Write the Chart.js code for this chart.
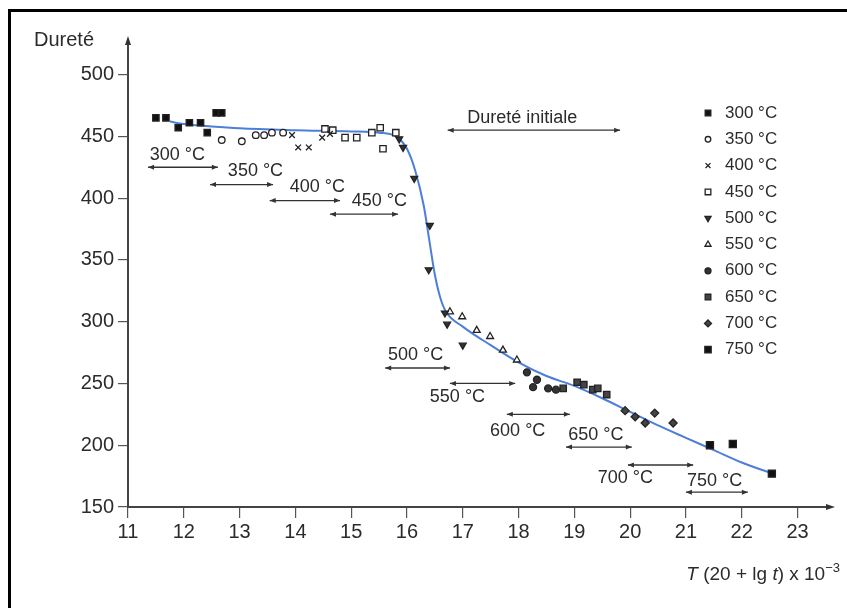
<!DOCTYPE html>
<html>
<head>
<meta charset="utf-8">
<script src="https://cdn.jsdelivr.net/npm/chart.js@4.4.1/dist/chart.umd.min.js"></script>
<style>
html, body { margin: 0; padding: 0; background: #fff; }
</style>
</head>
<body>
<canvas id="myChart" width="847" height="608"></canvas>
<script>
// axis ticks
const xTicks = [11, 12, 13, 14, 15, 16, 17, 18, 19, 20, 21, 22, 23];
const yTicks = [150, 200, 250, 300, 350, 400, 450, 500];

// tempering temperatures
const temps = ['300 °C', '350 °C', '400 °C', '450 °C', '500 °C', '550 °C', '600 °C', '650 °C', '700 °C', '750 °C'];

// measured hardness per temperature (x = T(20 + lg t) x 10^-3)
const x300 = [11.5, 11.68, 11.9, 12.1, 12.3, 12.42, 12.58, 12.68];
const y300 = [465, 465, 457, 461, 461, 453, 469, 469];
const x350 = [12.68, 13.04, 13.29, 13.44, 13.58, 13.78];
const y350 = [447, 446, 451, 451, 453, 453];
const x400 = [13.94, 14.05, 14.24, 14.48, 14.62];
const y400 = [451, 441, 441, 449, 452];
const x450 = [14.53, 14.67, 14.89, 15.1, 15.37, 15.52, 15.57, 15.8];
const y450 = [456, 455, 449, 449, 453, 457, 440, 453];
const x500 = [15.86, 15.93, 16.13, 16.41, 16.39, 16.68, 16.72, 17.0];
const y500 = [448, 441, 416, 378, 342, 307, 298, 281];
const x550 = [16.77, 16.99, 17.25, 17.49, 17.72, 17.97];
const y550 = [308, 304, 293, 288, 277, 269];
const x600 = [18.15, 18.26, 18.33, 18.53, 18.67];
const y600 = [259, 247, 253, 246, 245];
const x650 = [18.8, 19.05, 19.17, 19.33, 19.42, 19.58];
const y650 = [246, 251, 249, 245, 246, 241];
const x700 = [19.91, 20.09, 20.27, 20.44, 20.77];
const y700 = [228, 223, 218, 226, 218];
const x750 = [21.43, 21.84, 22.54];
const y750 = [200, 201, 177];

// fitted master curve
const curveX = [11.75, 12.0, 12.5, 13.0, 14.0, 15.0, 15.5, 15.8, 16.0, 16.15, 16.3, 16.4, 16.5, 16.6, 16.7, 17.0, 17.5, 18.0, 18.5, 19.0, 19.5, 20.0, 20.5, 21.0, 21.5, 22.0, 22.55];
const curveY = [462, 460, 458, 456.5, 455, 454, 453, 450, 440, 422, 394, 366, 338, 319, 308, 296, 281, 267, 256, 248, 238, 227, 216, 206, 196, 186, 177];

// temperature ranges shown as double arrows
const rangeFrom = [11.36, 12.47, 13.54, 14.62, 15.61, 16.77, 17.79, 18.85, 19.96, 21.0];
const rangeTo = [12.61, 13.6, 14.8, 15.84, 16.77, 17.94, 18.92, 20.03, 21.13, 22.11];
const rangeY = [425, 411, 398, 387, 262.5, 250, 225, 198.5, 184, 162];
const rangeLabelX = [11.39, 12.79, 13.9, 15.01, 15.66, 16.41, 17.49, 18.89, 19.42, 21.02];
const rangeLabelY = [435, 422, 409, 397.5, 273, 239, 211.5, 208, 173.5, 171];

// initial hardness band
const initFrom = 16.73, initTo = 19.82, initY = 455;
const initLabelX = 17.08, initLabelY = 465;

const seriesX = [x300, x350, x400, x450, x500, x550, x600, x650, x700, x750];
const seriesY = [y300, y350, y400, y450, y500, y550, y600, y650, y700, y750];

const marks = [
    {style: 'rect', fill: '#111', radius: 4.5, rotation: 0},
    {style: 'circle', fill: '#fff', radius: 3.3, rotation: 0},
    {style: 'crossRot', fill: '#fff', radius: 4, rotation: 0},
    {style: 'rect', fill: '#fff', radius: 4.5, rotation: 0},
    {style: 'triangle', fill: '#333', radius: 4, rotation: 180},
    {style: 'triangle', fill: '#fff', radius: 4, rotation: 0},
    {style: 'circle', fill: '#333', radius: 3.5, rotation: 0},
    {style: 'rect', fill: '#444', radius: 4.5, rotation: 0},
    {style: 'rectRot', fill: '#444', radius: 4, rotation: 0},
    {style: 'rect', fill: '#111', radius: 5, rotation: 0}
];

const FONT = '"Liberation Sans", Arial, sans-serif';
const INK = '#2b2b2b';

var datasets = [{
    label: 'courbe',
    data: curveX.map((v, i) => ({x: v, y: curveY[i]})),
    showLine: true,
    borderColor: '#4d7fd8',
    borderWidth: 2,
    pointRadius: 0,
    cubicInterpolationMode: 'monotone',
    order: 10
}];
for (let i = 0; i < temps.length; i++) {
    datasets.push({
        label: temps[i],
        data: seriesX[i].map((v, j) => ({x: v, y: seriesY[i][j]})),
        showLine: false,
        pointStyle: marks[i].style,
        pointRotation: marks[i].rotation,
        pointRadius: marks[i].radius,
        pointBackgroundColor: marks[i].fill,
        pointBorderColor: '#222',
        pointBorderWidth: 1.3,
        order: 0
    });
}

function arrowHead(ctx, x, y, dir, len, half) {
    // dir: 'l', 'r', 'u'
    ctx.beginPath();
    if (dir === 'r') {
        ctx.moveTo(x, y); ctx.lineTo(x - len, y - half); ctx.lineTo(x - len, y + half);
    } else if (dir === 'l') {
        ctx.moveTo(x, y); ctx.lineTo(x + len, y - half); ctx.lineTo(x + len, y + half);
    } else {
        ctx.moveTo(x, y); ctx.lineTo(x - half, y + len); ctx.lineTo(x + half, y + len);
    }
    ctx.closePath();
    ctx.fill();
}

function doubleArrow(ctx, x1, x2, y) {
    ctx.beginPath();
    ctx.moveTo(x1, y);
    ctx.lineTo(x2, y);
    ctx.stroke();
    arrowHead(ctx, x1, y, 'l', 6, 2.5);
    arrowHead(ctx, x2, y, 'r', 6, 2.5);
}

const decor = {
    id: 'decor',
    beforeDraw(chart) {
        const ctx = chart.ctx;
        ctx.save();
        ctx.fillStyle = '#fff';
        ctx.fillRect(0, 0, chart.width, chart.height);
        ctx.restore();
    },
    afterDraw(chart) {
        const ctx = chart.ctx;
        const xs = chart.scales.x, ys = chart.scales.y;
        const area = chart.chartArea;
        ctx.save();

        // frame
        ctx.strokeStyle = '#000';
        ctx.lineWidth = 3;
        ctx.beginPath();
        ctx.moveTo(9.5, 620);
        ctx.lineTo(9.5, 10.5);
        ctx.lineTo(860, 10.5);
        ctx.stroke();

        // axis arrow heads
        ctx.fillStyle = '#333';
        arrowHead(ctx, area.left, area.top - 4, 'u', 9, 3);
        arrowHead(ctx, area.right + 4, area.bottom, 'r', 9, 3);

        // temperature ranges
        ctx.strokeStyle = '#333';
        ctx.lineWidth = 1.3;
        ctx.fillStyle = '#333';
        for (let i = 0; i < rangeFrom.length; i++) {
            doubleArrow(ctx, xs.getPixelForValue(rangeFrom[i]), xs.getPixelForValue(rangeTo[i]), ys.getPixelForValue(rangeY[i]));
        }
        doubleArrow(ctx, xs.getPixelForValue(initFrom), xs.getPixelForValue(initTo), ys.getPixelForValue(initY));

        ctx.fillStyle = INK;
        ctx.font = '18px ' + FONT;
        ctx.textAlign = 'left';
        ctx.textBaseline = 'middle';
        for (let i = 0; i < temps.length; i++) {
            ctx.fillText(temps[i], xs.getPixelForValue(rangeLabelX[i]), ys.getPixelForValue(rangeLabelY[i]));
        }
        ctx.fillText('Dureté initiale', xs.getPixelForValue(initLabelX), ys.getPixelForValue(initLabelY));

        // legend
        for (let i = 0; i < temps.length; i++) {
            const ly = 113 + i * 26.3;
            ctx.fillStyle = marks[i].fill;
            ctx.strokeStyle = '#222';
            ctx.lineWidth = 1.3;
            Chart.helpers.drawPoint(ctx, {
                pointStyle: marks[i].style,
                rotation: marks[i].rotation,
                radius: marks[i].radius - 0.5,
                borderWidth: 1.3
            }, 708, ly);
            ctx.fillStyle = INK;
            ctx.font = '17px ' + FONT;
            ctx.fillText(temps[i], 725, ly);
        }

        // y axis title
        ctx.font = '20px ' + FONT;
        ctx.fillText('Dureté', 34, 40);

        // x axis title: T (20 + lg t) x 10^-3
        const parts = [
            {t: 'T', f: 'italic 19px ' + FONT, dy: 0},
            {t: ' (20 + lg ', f: '19px ' + FONT, dy: 0},
            {t: 't', f: 'italic 19px ' + FONT, dy: 0},
            {t: ') x 10', f: '19px ' + FONT, dy: 0},
            {t: '−3', f: '13px ' + FONT, dy: -8}
        ];
        let total = 0;
        parts.forEach(p => { ctx.font = p.f; total += ctx.measureText(p.t).width; });
        let px = 840 - total;
        ctx.textBaseline = 'alphabetic';
        parts.forEach(p => {
            ctx.font = p.f;
            ctx.fillText(p.t, px, 580 + p.dy);
            px += ctx.measureText(p.t).width;
        });
        ctx.restore();
    }
};

var ctx = document.getElementById('myChart').getContext('2d');
var myChart = new Chart(ctx, {
    type: 'scatter',
    data: {datasets: datasets},
    options: {
        responsive: false,
        animation: false,
        layout: {padding: {left: 0, right: 16, top: 40, bottom: 0}},
        plugins: {legend: {display: false}, tooltip: {enabled: false}},
        scales: {
            x: {
                type: 'linear',
                min: 11,
                max: 23.6,
                afterBuildTicks: s => { s.ticks = xTicks.map(v => ({value: v})); },
                afterFit: s => { s.height = 101; },
                border: {display: true, color: '#444', width: 2},
                grid: {display: true, drawOnChartArea: false, drawTicks: true, tickLength: 11, color: '#555', lineWidth: 1.2},
                ticks: {color: INK, font: {family: FONT, size: 20}, padding: 2}
            },
            y: {
                type: 'linear',
                min: 150,
                max: 528,
                afterBuildTicks: s => { s.ticks = yTicks.map(v => ({value: v})); },
                afterFit: s => { s.width = 128; },
                border: {display: true, color: '#444', width: 2},
                grid: {display: true, drawOnChartArea: false, drawTicks: true, tickLength: 10, color: '#555', lineWidth: 1.2},
                ticks: {color: INK, font: {family: FONT, size: 20}, padding: 4}
            }
        }
    },
    plugins: [decor]
});
</script>
</body>
</html>
